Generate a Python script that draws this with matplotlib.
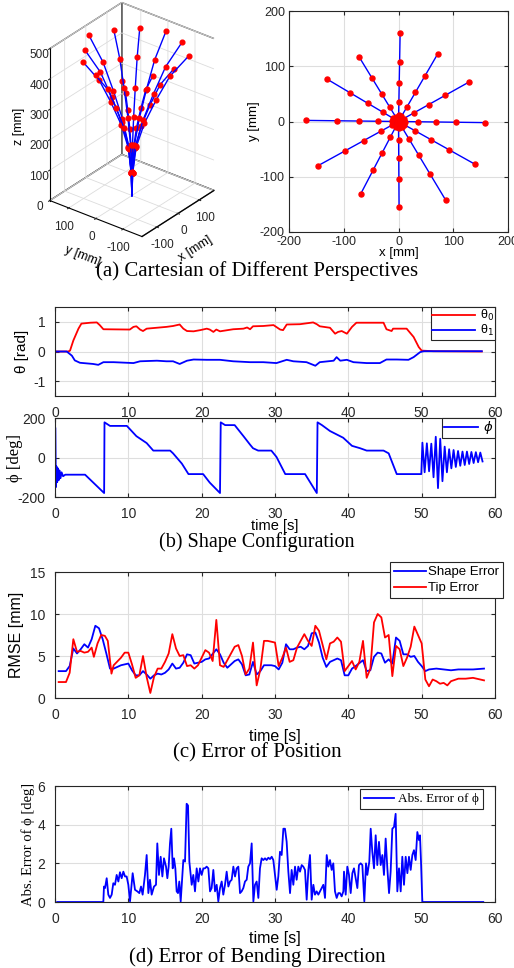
import numpy as np
import matplotlib
matplotlib.use("Agg")
import matplotlib.pyplot as plt

plt.rcParams["font.family"] = ["Liberation Sans", "DejaVu Sans"]
plt.rcParams["mathtext.fontset"] = "dejavusans"
plt.rcParams["axes.unicode_minus"] = False

SERIF = ["Liberation Serif", "DejaVu Serif"]
INK = "#262626"

# ------------------------------------------------------------
# (a) shape snapshots: tip positions and marker layout along each shape
# ------------------------------------------------------------
tip_x = [3, -72, -131, -169, -147, -69, 1, 86, 139, 158, 128, 72]
tip_y = [161, 117, 77, 2, -80, -131, -154, -142, -77, -2, 71, 123]
marker_frac = [0.0, 0.015, 0.075, 0.22, 0.43, 0.67, 1.0]
marker_z = [0, 75, 160, 240, 320, 400, 470]

# ------------------------------------------------------------
# (b) shape configuration
# ------------------------------------------------------------
theta0_t = [0, 1.8, 2.05, 2.5, 3.2, 3.6, 4.8, 5.7, 6.1, 6.6, 10.2, 10.7, 11.1, 11.6,
            12.0, 12.5, 15.2, 16.1, 17.0, 17.5, 18.0, 18.9, 19.8, 20.7, 21.1, 21.6,
            22.0, 22.5, 24.3, 25.7, 26.2, 26.6, 27.0, 28.4, 29.8, 30.7, 31.1, 31.6,
            33.4, 35.2, 35.7, 36.1, 37.5, 38.2, 38.6, 39.1, 39.8, 40.5, 41.1, 44.8,
            45.2, 45.9, 46.1, 47.0, 47.95, 48.9, 49.6, 50.0, 51.6, 58.2]
theta0 = [0, 0, 0.03, 0.37, 0.77, 0.94, 0.97, 0.98, 0.89, 0.75, 0.74, 0.83, 0.85, 0.74,
          0.69, 0.77, 0.83, 0.86, 0.91, 0.77, 0.69, 0.68, 0.72, 0.77, 0.74, 0.66,
          0.74, 0.68, 0.75, 0.77, 0.81, 0.75, 0.85, 0.86, 0.89, 0.74, 0.72, 0.91,
          0.92, 0.98, 0.92, 0.85, 0.80, 0.60, 0.66, 0.69, 0.60, 0.83, 0.97, 0.97,
          0.75, 0.69, 0.77, 0.77, 0.77, 0.49, 0.15, 0.03, 0.01, 0.0]
theta1_t = [0, 1.6, 2.3, 2.7, 3.4, 4.3, 5.2, 5.9, 6.6, 8.0, 10.7, 11.6, 13.9, 15.2,
            16.1, 17.0, 18.0, 18.9, 20.7, 22.5, 24.3, 26.6, 28.4, 30.2, 31.6, 32.5,
            34.3, 35.5, 36.1, 38.0, 38.4, 38.9, 39.8, 40.7, 42.5, 44.3, 45.2, 46.6,
            48.2, 48.9, 49.8, 50.3, 58.2]
theta1 = [0, 0, -0.14, -0.30, -0.38, -0.40, -0.42, -0.45, -0.36, -0.36, -0.39, -0.33,
          -0.31, -0.33, -0.33, -0.42, -0.31, -0.27, -0.28, -0.28, -0.33, -0.36, -0.36,
          -0.39, -0.28, -0.33, -0.36, -0.48, -0.36, -0.31, -0.19, -0.31, -0.28, -0.36,
          -0.39, -0.39, -0.27, -0.27, -0.28, -0.19, -0.02, 0.01, 0.01]

phi_t = [0.0, 0.05, 0.12, 0.2, 0.3, 0.4, 0.5, 0.6, 0.75, 0.9, 1.1, 1.4, 4.1, 6.7,
         6.75, 7.5, 9.8, 11.1, 12.5, 13.4, 15.7, 16.1, 17.3, 18.2, 20.2, 21.1, 22.5,
         22.6, 23.2, 24.5, 25.7, 26.6, 27.0, 27.7, 29.5, 30.2, 31.4, 34.1, 35.7, 35.8,
         36.4, 37.5, 38.4, 39.3, 40.5, 41.6, 42.5, 44.8, 45.5, 46.6, 49.95]
phi = [150, 150, -150, -45, -125, -55, -115, -65, -105, -75, -95, -87, -87, -180,
       178, 160, 160, 108, 73, 35, 35, 21, -31, -84, -84, -127, -180,
       178, 164, 164, 108, 65, 47, 35, 35, 3, -84, -84, -180, 178,
       164, 134, 117, 100, 59, 47, 35, 35, 21, -84, -84]
# damped swing after the release (alternating extrema, t = 50.1 ... 58.3)
phi_swing = [75, -75, 72, -70, 70, -100, 105, -155, 95, -120, 55, -75, 42, -55,
             38, -48, 33, -42, 30, -38, 30, -33, 28, -28, 27, -24, 25, -20]

# ------------------------------------------------------------
# (c) position error
# ------------------------------------------------------------
shape_t = [0.5, 1.5, 2, 2.5, 3, 3.5, 4, 4.5, 5, 5.5,
           6, 6.5, 7, 7.5, 8, 9, 10, 10.5, 11, 11.5,
           12, 12.5, 13, 13.5, 14, 14.5, 15, 15.5, 16, 16.5,
           17, 17.5, 18, 18.5, 19, 20, 20.5, 21, 22, 22.5,
           23, 23.5, 24, 24.5, 25, 25.5, 26, 26.5, 27, 27.5,
           28, 28.5, 29.5, 30, 30.5, 31, 31.5, 32, 32.5, 33,
           33.5, 34, 34.5, 35, 35.5, 36, 36.5, 37, 37.5, 38,
           38.5, 39, 39.5, 40, 40.5, 41, 42, 42.5, 43, 43.5,
           44, 44.5, 45, 45.5, 46, 46.5, 47, 47.5, 48, 48.5,
           49, 49.5, 50, 50.5, 51, 52, 53, 54, 55, 56,
           57, 58.5]
shape_err = [3.2, 3.2, 3.8, 5.9, 5.3, 5.8, 6.4, 6.0, 7.0, 8.6,
             8.3, 7.0, 5.3, 3.5, 3.5, 3.9, 4.1, 3.3, 2.7, 2.7,
             3.2, 2.8, 2.3, 2.7, 2.9, 2.8, 3.0, 3.4, 4.1, 3.5,
             3.6, 4.2, 5.2, 5.1, 4.1, 4.3, 4.6, 4.7, 5.8, 5.2,
             4.2, 3.6, 4.0, 4.4, 4.6, 4.0, 2.7, 2.8, 4.3, 2.8,
             3.2, 3.9, 3.9, 3.8, 3.4, 4.2, 6.4, 5.8, 5.8, 6.0,
             6.1, 5.8, 6.2, 7.7, 7.8, 6.6, 4.8, 3.7, 4.3, 4.5,
             4.7, 4.5, 2.7, 2.7, 3.5, 3.8, 4.5, 3.2, 3.3, 4.9,
             5.4, 5.3, 4.2, 4.6, 4.1, 7.2, 6.8, 5.2, 5.2, 4.9,
             5.0, 4.3, 3.8, 3.2, 3.4, 3.5, 3.4, 3.3, 3.4, 3.4,
             3.4, 3.5]
tip_t = [0.5, 1.5, 2, 2.5, 3, 3.5, 4, 4.5, 5, 5.3,
         5.8, 6.3, 6.8, 7.2, 7.7, 8, 9, 9.5, 10, 10.5,
         11, 11.5, 12, 12.5, 13, 13.5, 14, 14.5, 15, 15.5,
         16, 16.5, 17, 17.5, 18, 18.5, 19, 19.5, 20.5, 21,
         21.5, 22, 22.5, 23, 23.5, 24, 24.5, 25, 25.5, 26,
         26.5, 27, 27.5, 28, 28.5, 29, 30, 30.5, 31, 31.5,
         32, 32.5, 33, 34, 34.5, 35, 35.5, 36, 36.5, 37,
         37.5, 38, 38.5, 39, 39.5, 40, 40.5, 41, 41.5, 42,
         42.5, 43, 43.5, 44, 44.5, 45, 45.5, 46, 46.5, 47,
         47.5, 48, 48.5, 49, 49.5, 50, 50.5, 51, 51.5, 52,
         52.5, 53, 53.5, 54, 55, 56, 57, 58.5]
tip_err = [1.9, 1.9, 3.0, 7.0, 5.5, 5.6, 5.4, 5.5, 6.0, 4.9,
           6.5, 7.5, 7.4, 6.8, 2.9, 3.9, 4.8, 5.4, 5.4, 4.0,
           2.4, 2.7, 5.0, 2.5, 0.6, 2.5, 3.5, 3.5, 4.3, 5.3,
           7.6, 5.9, 5.0, 5.1, 3.8, 3.9, 3.5, 3.9, 5.7, 5.4,
           4.4, 9.3, 3.9, 3.7, 4.5, 5.3, 6.1, 6.3, 5.0, 2.8,
           3.5, 6.6, 1.5, 3.4, 6.8, 6.8, 6.6, 3.8, 4.8, 6.0,
           4.3, 4.5, 6.0, 7.6, 6.8, 6.2, 8.6, 8.0, 6.3, 4.6,
           6.5, 6.7, 7.2, 6.7, 3.2, 3.8, 4.4, 3.4, 4.3, 6.8,
           2.4, 3.5, 9.0, 10.0, 9.6, 7.2, 7.5, 2.6, 6.2, 5.8,
           3.8, 4.8, 6.1, 8.5, 7.5, 6.5, 2.2, 1.4, 2.2, 2.0,
           1.7, 1.8, 1.5, 2.0, 2.3, 2.3, 2.4, 2.1]

# ------------------------------------------------------------
# (d) bending direction error
# ------------------------------------------------------------
dir_t = [0.3, 6.59, 6.68, 6.82, 7.05, 7.27, 7.5, 7.73, 7.95, 8.18,
         8.41, 8.64, 8.86, 9.09, 9.32, 9.55, 9.77, 10.0, 10.23, 10.59,
         10.91, 11.23, 11.5, 11.73, 11.95, 12.27, 12.5, 12.73, 12.95, 13.18,
         13.5, 13.77, 13.95, 14.18, 14.41, 14.64, 14.86, 15.14, 15.32, 15.5,
         15.68, 15.86, 16.05, 16.23, 16.41, 16.59, 16.77, 16.95, 17.14, 17.32,
         17.5, 17.73, 17.95, 18.14, 18.32, 18.64, 18.86, 19.09, 19.32, 19.55,
         19.77, 20.0, 20.23, 20.45, 20.68, 20.91, 21.14, 21.36, 21.59, 21.82,
         22.05, 22.27, 22.5, 22.73, 22.95, 23.18, 23.41, 23.64, 23.86, 24.09,
         24.32, 24.55, 24.77, 25.0, 25.23, 25.45, 25.68, 25.91, 26.14, 26.36,
         26.59, 26.82, 27.05, 27.27, 27.5, 27.73, 27.95, 28.18, 28.41, 28.64,
         28.86, 29.09, 29.32, 29.55, 29.77, 30.0, 30.23, 30.45, 30.68, 30.91,
         31.14, 31.36, 31.59, 31.82, 32.05, 32.27, 32.5, 32.73, 32.95, 33.18,
         33.41, 33.64, 33.86, 34.09, 34.32, 34.55, 34.77, 35.0, 35.23, 35.45,
         35.68, 35.91, 36.14, 36.36, 36.59, 36.82, 37.05, 37.27, 37.5, 37.73,
         37.95, 38.18, 38.41, 38.64, 38.86, 39.09, 39.32, 39.41, 39.64, 39.86,
         40.09, 40.32, 40.55, 40.77, 41.0, 41.23, 41.45, 41.68, 41.91, 42.18,
         42.41, 42.59, 42.86, 43.05, 43.27, 43.5, 43.73, 43.95, 44.18, 44.41,
         44.64, 44.86, 45.09, 45.32, 45.55, 45.77, 46.0, 46.23, 46.45, 46.68,
         46.91, 47.14, 47.36, 47.59, 47.82, 48.05, 48.27, 48.5, 48.73, 48.95,
         49.18, 49.41, 49.64, 49.77, 49.91, 50.09, 58.4]
dir_err = [0, 0, 0.80, 0.72, 1.23, 0.38, 0.21, 0.38, 0.97, 0.89,
           1.40, 1.06, 1.54, 1.23, 1.57, 1.32, 1.32, 0.89, 0.03, 1.49,
           0.63, 0.55, 0.46, 0.80, 0.38, 1.40, 2.43, 0.46, 1.15, 0.38,
           0.80, 0.89, 3.03, 1.40, 2.34, 1.32, 2.26, 1.83, 1.23, 1.83,
           3.03, 3.79, 1.74, 2.26, 1.74, 0.55, 0.46, 1.06, 0.03, 1.06,
           2.17, 2.09, 5.08, 4.99, 2.09, 0.89, 1.40, 0.55, 1.74, 1.06,
           1.74, 1.40, 1.74, 1.74, 1.83, 1.74, 0.55, 0.72, 1.66, 0.55,
           0.89, 0.03, 0.72, 1.06, 0.38, 0.89, 1.57, 0.80, 1.06, 1.15,
           1.83, 1.32, 1.74, 1.83, 0.46, 0.55, 0.72, 1.06, 1.15, 1.83,
           2.00, 3.03, 0.03, 0.89, 1.06, 0.21, 1.74, 2.26, 2.17, 2.26,
           2.17, 2.29, 2.22, 2.34, 2.17, 1.40, 0.63, 1.32, 2.60, 2.43,
           3.79, 3.79, 3.11, 1.57, 0.46, 1.66, 0.89, 1.83, 1.15, 1.83,
           1.57, 1.91, 1.83, 1.66, 0.12, 1.66, 2.43, 0.12, 0.89, 0.38,
           0.55, 0.38, 0.55, 0.72, 0.89, 0.21, 2.43, 1.83, 2.17, 1.66,
           2.00, 0.55, 0.21, 0.46, 0.46, 0.29, 0.55, 1.57, 0.38, 1.83,
           1.40, 0.46, 1.49, 1.74, 1.23, 0.72, 1.91, 2.00, 1.91, 0.03,
           2.00, 1.40, 2.09, 3.79, 2.60, 1.74, 3.45, 1.91, 3.11, 1.91,
           2.43, 1.40, 3.28, 1.74, 0.46, 1.57, 3.79, 3.88, 4.56, 0.55,
           1.74, 0.55, 2.34, 0.89, 2.34, 1.49, 2.34, 1.66, 2.43, 2.68,
           2.17, 3.62, 3.20, 3.45, 2.09, 0, 0]


def style_axes(ax, labelsize=10, pad=7):
    ax.grid(True, color="#dedede", linewidth=0.8)
    ax.set_axisbelow(True)
    for s in ax.spines.values():
        s.set_color(INK)
        s.set_linewidth(0.8)
    ax.tick_params(direction="in", length=3, top=True, right=True,
                   labelsize=labelsize, colors=INK, pad=pad)


def legend_box(leg):
    frame = leg.get_frame()
    frame.set_edgecolor(INK)
    frame.set_linewidth(0.8)


fig = plt.figure(figsize=(5.14, 9.68), dpi=100)

# ------------------------------------------------------------
# (a) left: 3D view
# ------------------------------------------------------------
ax3 = fig.add_axes([0.0, 0.743, 0.5, 0.26], projection="3d", proj_type="ortho")
ax3.view_init(elev=30, azim=-142)
for tx, ty in zip(tip_x, tip_y):
    xs = np.array(marker_frac) * tx
    ys = np.array(marker_frac) * ty
    ax3.plot(xs, ys, marker_z, color="blue", lw=1.0)
    ax3.plot(xs[1:], ys[1:], np.array(marker_z)[1:], "o", color="red", ms=3.4)
ax3.set_xlim(-170, 170)
ax3.set_ylim(-170, 170)
ax3.set_zlim(0, 500)
ax3.set_xticks([-100, 0, 100])
ax3.set_yticks([-100, 0, 100])
ax3.set_zticks([0, 100, 200, 300, 400, 500])
ax3.set_xlabel("x [mm]", fontsize=9, labelpad=-3)
ax3.set_ylabel("y [mm]", fontsize=9, labelpad=-3)
ax3.set_zlabel("z [mm]", fontsize=9, labelpad=-3)
ax3.tick_params(labelsize=8.5, pad=-2, colors=INK)
for axis in (ax3.xaxis, ax3.yaxis, ax3.zaxis):
    axis.set_pane_color((1, 1, 1, 1))
    axis.pane.set_edgecolor("#555555")
    axis._axinfo["grid"]["color"] = "#dcdcdc"
    axis._axinfo["grid"]["linewidth"] = 0.6
ax3.zaxis.set_ticks_position("upper")
ax3.zaxis.set_label_position("upper")
ax3.set_box_aspect((1, 1, 1.5), zoom=0.93)

# ------------------------------------------------------------
# (a) right: top view
# ------------------------------------------------------------
ax_top = fig.add_axes([289 / 514, 1 - 232 / 968, 219 / 514, 221 / 968])
for tx, ty in zip(tip_x, tip_y):
    xs = np.array(marker_frac) * tx
    ys = np.array(marker_frac) * ty
    ax_top.plot(xs, ys, color="blue", lw=1.0)
    ax_top.plot(xs[1:], ys[1:], "o", color="red", ms=3.6)
ax_top.set_xlim(-200, 200)
ax_top.set_ylim(-200, 200)
ax_top.set_xticks(range(-200, 201, 100))
ax_top.set_yticks(range(-200, 201, 100))
style_axes(ax_top, labelsize=9, pad=3)
ax_top.set_xlabel("x [mm]", fontsize=9.5, labelpad=-1)
ax_top.set_ylabel("y [mm]", fontsize=9.5, labelpad=0)

fig.text(0.5, 1 - 271 / 968, "(a) Cartesian of Different Perspectives",
         ha="center", va="center", fontsize=15, family=SERIF)

# ------------------------------------------------------------
# (b) theta and phi
# ------------------------------------------------------------
ax_th = fig.add_axes([55 / 514, 1 - 396 / 968, 440 / 514, 89 / 968])
ax_th.plot(theta0_t, theta0, color="red", lw=1.3, label="θ$_0$")
ax_th.plot(theta1_t, theta1, color="blue", lw=1.3, label="θ$_1$")
ax_th.set_xlim(0, 60)
ax_th.set_ylim(-1.5, 1.5)
ax_th.set_yticks([-1, 0, 1])
style_axes(ax_th)
ax_th.set_ylabel("θ [rad]", fontsize=11, labelpad=3)
leg = ax_th.legend(loc="upper right", borderaxespad=0, fancybox=False,
                   handlelength=3.4, fontsize=9, labelspacing=0.0,
                   borderpad=0.1, handletextpad=0.4, framealpha=1)
legend_box(leg)

ax_phi = fig.add_axes([55 / 514, 1 - 497 / 968, 440 / 514, 79 / 968])
swing_t = np.linspace(50.1, 58.3, len(phi_swing))
ax_phi.plot(list(phi_t) + list(swing_t), list(phi) + list(phi_swing),
            color="blue", lw=1.3, label="$\\phi$")
ax_phi.set_xlim(0, 60)
ax_phi.set_ylim(-200, 200)
ax_phi.set_yticks([-200, 0, 200])
style_axes(ax_phi)
ax_phi.set_ylabel("ϕ [deg]", fontsize=12, family=SERIF, labelpad=-4)
ax_phi.set_xlabel("time [s]", fontsize=10.5, labelpad=-1)
leg = ax_phi.legend(loc="upper right", borderaxespad=0, fancybox=False,
                    handlelength=2.6, fontsize=9.5, borderpad=0.1,
                    handletextpad=0.4, framealpha=1)
legend_box(leg)

fig.text(0.5, 1 - 542 / 968, "(b) Shape Configuration",
         ha="center", va="center", fontsize=14.5, family=SERIF)

# ------------------------------------------------------------
# (c) RMSE
# ------------------------------------------------------------
ax_rm = fig.add_axes([55 / 514, 1 - 698 / 968, 440 / 514, 126 / 968])
ax_rm.plot(shape_t, shape_err, color="blue", lw=1.3, label="Shape Error")
ax_rm.plot(tip_t, tip_err, color="red", lw=1.3, label="Tip Error")
ax_rm.set_xlim(0, 60)
ax_rm.set_ylim(0, 15)
ax_rm.set_yticks([0, 5, 10, 15])
style_axes(ax_rm)
ax_rm.set_ylabel("RMSE [mm]", fontsize=11.5, labelpad=4)
ax_rm.set_xlabel("time [s]", fontsize=11.5, labelpad=5)
leg = ax_rm.legend(loc="upper right", bbox_to_anchor=(503 / 514, 1 - 562 / 968),
                   bbox_transform=fig.transFigure, borderaxespad=0, fancybox=False,
                   handlelength=2.4, fontsize=9.5, labelspacing=0.3,
                   borderpad=0.3, handletextpad=0.15, framealpha=1)
legend_box(leg)

fig.text(0.5, 1 - 753 / 968, "(c) Error of Position",
         ha="center", va="center", fontsize=15, family=SERIF)

# ------------------------------------------------------------
# (d) abs error of phi
# ------------------------------------------------------------
ax_d = fig.add_axes([55 / 514, 1 - 902 / 968, 440 / 514, 116 / 968])
ax_d.plot(dir_t, dir_err, color="blue", lw=1.3, label="Abs. Error of ϕ")
ax_d.set_xlim(0, 60)
ax_d.set_ylim(0, 6)
ax_d.set_yticks([0, 2, 4, 6])
style_axes(ax_d)
ax_d.set_ylabel("Abs. Error of ϕ [deg]", fontsize=10.5, family=SERIF, labelpad=2)
ax_d.set_xlabel("time [s]", fontsize=11.5, labelpad=4)
leg = ax_d.legend(loc="upper right", bbox_to_anchor=(483 / 514, 1 - 789 / 968),
                  bbox_transform=fig.transFigure, borderaxespad=0, fancybox=False,
                  handlelength=2.3, prop={"family": SERIF, "size": 9.5},
                  borderpad=0.3, handletextpad=0.3, framealpha=1)
legend_box(leg)

fig.text(0.5, 1 - 957 / 968, "(d) Error of Bending Direction",
         ha="center", va="center", fontsize=15, family=SERIF)

fig.savefig("out.png", dpi=100)
